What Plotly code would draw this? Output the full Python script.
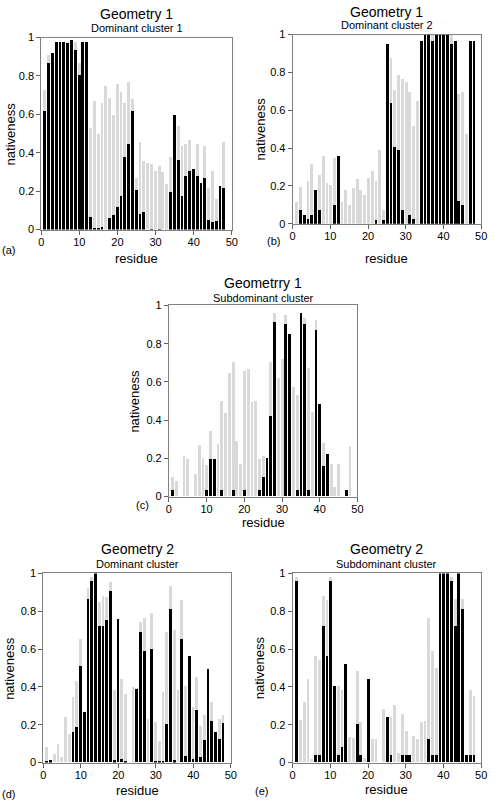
import plotly.graph_objects as go

residues = list(range(1, 49))

# Panel (a) Geometry 1, dominant cluster 1
a_black = [0.62, 0.87, 0.92, 0.98, 0.98, 0.98, 0.975, 0.99, 0.94, 0.81, 0.98, 0.98,
           0.07, 0.01, 0.01, 0.015, 0.0, 0.065, 0.08, 0.12, 0.18, 0.38, 0.45, 0.62,
           0.21, 0.085, 0.095, 0.0, 0.005, 0.0, 0.005, 0.0, 0.0, 0.20, 0.60, 0.365,
           0.18, 0.28, 0.31, 0.32, 0.28, 0.245, 0.27, 0.055, 0.04, 0.048, 0.23, 0.22]
a_gray = [0.73, 0.91, 0.92, 0.98, 0.98, 0.98, 0.98, 0.99, 0.98, 0.87, 0.98, 0.98,
          0.53, 0.67, 0.50, 0.66, 0.75, 0.69, 0.60, 0.76, 0.72, 0.66, 0.77, 0.68,
          0.27, 0.46, 0.36, 0.35, 0.345, 0.31, 0.335, 0.30, 0.24, 0.38, 0.60, 0.54,
          0.44, 0.45, 0.47, 0.32, 0.45, 0.245, 0.44, 0.22, 0.31, 0.16, 0.23, 0.46]

# Panel (b) Geometry 1, dominant cluster 2
b_black = [0.0, 0.075, 0.05, 0.025, 0.05, 0.18, 0.075, 0.0, 0.0, 0.0, 0.10, 0.36,
           0.0, 0.0, 0.0, 0.0, 0.0, 0.0, 0.0, 0.0, 0.0, 0.02, 0.0, 0.02,
           0.95, 0.64, 0.41, 0.39, 0.075, 0.0, 0.05, 0.025, 0.0, 0.97, 1.0, 1.0,
           0.97, 1.0, 1.0, 1.0, 1.0, 0.95, 0.97, 0.125, 0.10, 0.0, 0.97, 0.97]
b_gray = [0.115, 0.195, 0.05, 0.23, 0.32, 0.18, 0.26, 0.36, 0.22, 0.205, 0.35, 0.36,
          0.115, 0.18, 0.10, 0.19, 0.24, 0.18, 0.155, 0.245, 0.28, 0.23, 0.39, 0.075,
          0.95, 0.88, 0.71, 0.79, 0.77, 0.75, 0.70, 0.52, 0.65, 0.97, 1.0, 1.0,
          1.0, 1.0, 1.0, 1.0, 1.0, 1.0, 0.97, 0.69, 0.70, 0.475, 0.97, 0.97]

# Panel (c) Geometry 1, subdominant cluster
c_black = [0.03, 0.0, 0.0, 0.0, 0.0, 0.0, 0.0, 0.0, 0.0, 0.03, 0.195, 0.195,
           0.0, 0.03, 0.0, 0.0, 0.03, 0.0, 0.0, 0.03, 0.0, 0.0, 0.0, 0.03,
           0.10, 0.20, 0.42, 0.91, 0.0, 0.0, 0.90, 0.85, 0.0, 0.03, 0.96, 0.90,
           0.03, 0.0, 0.87, 0.48, 0.16, 0.22, 0.0, 0.0, 0.0, 0.0, 0.03, 0.0]
c_gray = [0.10, 0.08, 0.0, 0.21, 0.195, 0.0, 0.115, 0.27, 0.20, 0.165, 0.34, 0.195,
          0.275, 0.50, 0.435, 0.645, 0.70, 0.29, 0.17, 0.655, 0.665, 0.49, 0.50, 0.195,
          0.21, 0.20, 0.70, 0.96, 0.62, 0.72, 0.95, 0.85, 0.57, 0.53, 0.96, 0.93,
          0.67, 0.44, 0.92, 0.48, 0.28, 0.22, 0.17, 0.05, 0.17, 0.0, 0.03, 0.26]

# Panel (d) Geometry 2, dominant cluster
d_black = [0.005, 0.01, 0.0, 0.0, 0.0, 0.0, 0.0, 0.16, 0.185, 0.51, 0.265, 0.86,
           0.96, 1.0, 0.72, 0.72, 0.75, 0.905, 0.01, 0.755, 0.015, 0.005, 0.0, 0.0,
           0.385, 0.69, 0.59, 0.0, 0.60, 0.005, 0.005, 0.005, 0.20, 0.81, 0.01, 0.0,
           0.65, 0.035, 0.56, 0.015, 0.275, 0.025, 0.115, 0.495, 0.215, 0.16, 0.12, 0.205]
d_gray = [0.08, 0.01, 0.045, 0.095, 0.025, 0.24, 0.15, 0.345, 0.43, 0.65, 0.265, 0.92,
          0.98, 1.0, 0.845, 0.88, 0.875, 0.955, 0.38, 0.755, 0.44, 0.36, 0.0, 0.395,
          0.39, 0.74, 0.76, 0.23, 0.79, 0.21, 0.11, 0.37, 0.69, 0.93, 0.70, 0.38,
          0.855, 0.40, 0.56, 0.29, 0.45, 0.19, 0.25, 0.495, 0.32, 0.16, 0.23, 0.25]

# Panel (e) Geometry 2, subdominant cluster
e_black = [0.96, 0.0, 0.0, 0.0, 0.0, 0.04, 0.04, 0.72, 0.56, 0.96, 0.40, 0.04,
           0.08, 0.52, 0.0, 0.0, 0.20, 0.04, 0.0, 0.44, 0.0, 0.0, 0.0, 0.0,
           0.24, 0.04, 0.0, 0.0, 0.04, 0.04, 0.04, 0.0, 0.0, 0.0, 0.0, 0.12,
           0.04, 0.04, 1.0, 1.0, 1.0, 0.96, 0.72, 1.0, 0.81, 0.04, 0.04, 0.04]
e_gray = [0.98, 0.225, 0.32, 0.44, 0.015, 0.56, 0.54, 0.88, 0.855, 0.98, 0.40, 0.40,
          0.38, 0.52, 0.135, 0.13, 0.48, 0.21, 0.02, 0.44, 0.12, 0.12, 0.0, 0.28,
          0.24, 0.24, 0.30, 0.05, 0.255, 0.165, 0.04, 0.14, 0.12, 0.21, 0.22, 0.76,
          0.59, 0.50, 1.0, 1.0, 1.0, 0.98, 0.86, 1.0, 0.86, 0.04, 0.38, 0.35]

titles = ["Geometry 1", "Geometry 1", "Geometrry 1", "Geometry 2", "Geometry 2"]
subtitles = ["Dominant cluster 1", "Dominant cluster 2", "Subdominant cluster",
             "Dominant cluster", "Subdominant cluster"]
panel_tags = ["(a)", "(b)", "(c)", "(d)", "(e)"]
x_ticks = [0, 10, 20, 30, 40, 50]
y_ticks = [0, 0.2, 0.4, 0.6, 0.8, 1]

W, H = 495, 806
# plot-area boxes in pixels: (x0, x1, ytop, ybottom)
boxes = [(39, 233, 32, 227), (295, 487, 29, 221), (169, 361, 304, 498),
         (41, 232, 576, 768), (295, 487, 576, 768)]
# text positions in pixels
title_y = [8, 6, 281, 551, 551]
sub_y = [22, 19, 296, 566, 566]
ylab_x = [8, 262, 133, 7, 262]
xlab_y = [256, 256, 524, 796, 795]
tag_pos = [(6, 248), (276, 239), (142, 507), (6, 800), (263, 797)]

data_black = [a_black, b_black, c_black, d_black, e_black]
data_gray = [a_gray, b_gray, c_gray, d_gray, e_gray]

FONT = "Liberation Sans, Arial, Helvetica, sans-serif"
fig = go.Figure()
annotations = []
layout_axes = {}

for i in range(5):
    sfx = "" if i == 0 else str(i + 1)
    xa, ya = "x" + sfx, "y" + sfx
    fig.add_trace(go.Bar(x=residues, y=data_gray[i], xaxis=xa, yaxis=ya,
                         marker=dict(color="#d9d9d9", line=dict(width=0)),
                         width=0.75, showlegend=False, hoverinfo="x+y"))
    fig.add_trace(go.Bar(x=residues, y=data_black[i], xaxis=xa, yaxis=ya,
                         marker=dict(color="#000000", line=dict(width=0)),
                         width=0.75, showlegend=False, hoverinfo="x+y"))
    x0, x1, yt, yb = boxes[i]
    common = dict(showgrid=False, zeroline=False, showline=True, linecolor="#808080",
                  linewidth=1, mirror=True, ticks="outside", ticklen=4,
                  tickcolor="#606060", tickfont=dict(family=FONT, size=11, color="#000"))
    layout_axes["xaxis" + sfx] = dict(common, domain=[x0 / W, x1 / W], range=[0, 50],
                                      tickvals=x_ticks, anchor=ya, ticklabelstandoff=-2)
    layout_axes["yaxis" + sfx] = dict(common, domain=[1 - yb / H, 1 - yt / H], range=[0, 1],
                                      tickvals=y_ticks, ticktext=["0", "0.2", "0.4", "0.6", "0.8", "1"],
                                      anchor=xa)
    cx = (x0 + x1) / 2
    annotations.append(dict(text=titles[i], x=cx / W, y=1 - title_y[i] / H, xref="paper", yref="paper",
                            showarrow=False, xanchor="center", yanchor="middle",
                            font=dict(family=FONT, size=14, color="#000")))
    annotations.append(dict(text=subtitles[i], x=cx / W, y=1 - sub_y[i] / H, xref="paper", yref="paper",
                            showarrow=False, xanchor="center", yanchor="middle",
                            font=dict(family=FONT, size=11, color="#000")))
    annotations.append(dict(text="nativeness", x=ylab_x[i] / W, y=1 - ((yt + yb) / 2) / H,
                            xref="paper", yref="paper", showarrow=False, textangle=-90,
                            xanchor="center", yanchor="middle",
                            font=dict(family=FONT, size=13, color="#000")))
    annotations.append(dict(text="residue", x=cx / W, y=1 - xlab_y[i] / H, xref="paper", yref="paper",
                            showarrow=False, xanchor="center", yanchor="middle", borderpad=0,
                            font=dict(family=FONT, size=13, color="#000")))
    tx, ty = tag_pos[i]
    annotations.append(dict(text=panel_tags[i], x=tx / W, y=1 - ty / H, xref="paper", yref="paper",
                            showarrow=False, xanchor="center", yanchor="middle",
                            font=dict(family=FONT, size=11, color="#000")))

fig.update_layout(width=W, height=H, margin=dict(l=0, r=0, t=0, b=0),
                  paper_bgcolor="white", plot_bgcolor="white", barmode="overlay",
                  bargap=0, annotations=annotations, **layout_axes)

fig.write_html(
    "out.html",
    config={"displayModeBar": False},
    post_script=("document.documentElement.style.overflow='hidden';"
                 "document.body.style.margin='0';document.body.style.overflow='hidden';"
                 "var d=document.getElementById('{plot_id}');"
                 "d.style.position='fixed';d.style.left='0px';d.style.top='0px';"),
)
